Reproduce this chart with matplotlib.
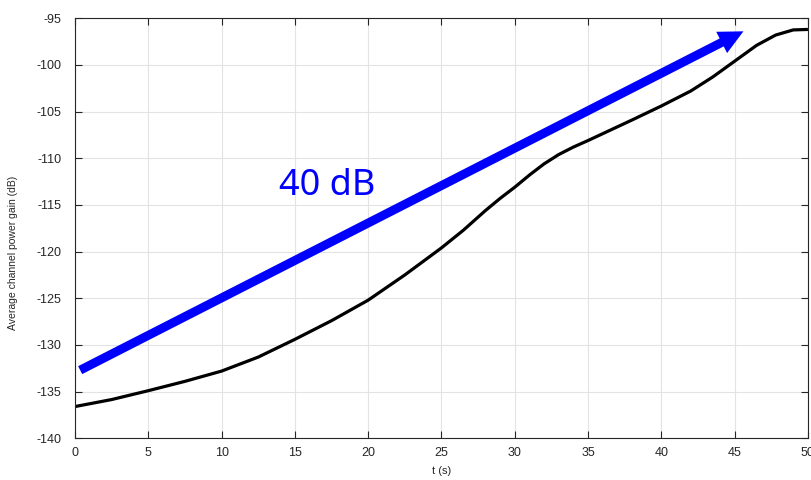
import numpy as np
import matplotlib
matplotlib.use('Agg')
import matplotlib.pyplot as plt
from matplotlib.patches import FancyArrowPatch

# curve
t = [0, 2.5, 5, 7.5, 10, 12.5, 15, 17.5, 20, 22.5, 25, 26.5, 28, 29, 30, 31, 32,
     33, 34, 35, 36.5, 38, 40, 42, 43.5, 45, 46.5, 47.8, 49, 50]
gain = [-136.6, -135.85, -134.9, -133.9, -132.8, -131.3, -129.4, -127.4, -125.2,
        -122.5, -119.6, -117.7, -115.6, -114.3, -113.1, -111.8, -110.6, -109.6,
        -108.8, -108.1, -107.0, -105.9, -104.4, -102.8, -101.3, -99.6, -97.9,
        -96.8, -96.25, -96.2]

arrow_start = (0.35, -132.7)
arrow_end = (45.6, -96.4)
label = '40 dB'
label_pos = (17.2, -113.0)

xticks = np.arange(0, 51, 5)
yticks = np.arange(-140, -94, 5)

plt.rcParams['font.family'] = ['Liberation Sans', 'DejaVu Sans']
plt.rcParams['axes.unicode_minus'] = False

fig = plt.figure(figsize=(8.12, 4.8), dpi=100)
ax = fig.add_axes([0.0924, 0.0869, 0.9026, 0.8751])

ax.plot(t, gain, color='black', lw=2.3, solid_joinstyle='round', solid_capstyle='butt')

arrow = FancyArrowPatch(arrow_start, arrow_end,
                        arrowstyle='simple,head_length=0.88,head_width=0.86,tail_width=0.32',
                        mutation_scale=20, color='#0000ff', lw=0, shrinkA=0, shrinkB=0)
ax.add_patch(arrow)

ax.text(label_pos[0], label_pos[1], label, color='#0000ff', fontsize=26,
        family=['Noto Sans', 'DejaVu Sans'], ha='center', va='center')

ax.set_xlim(0, 50)
ax.set_ylim(-140, -95)
ax.set_xticks(xticks)
ax.set_yticks(yticks)
ax.grid(True, color='#e3e3e3', lw=0.8)
ax.set_axisbelow(True)
ax.tick_params(direction='in', top=True, right=True, length=5, width=0.8,
               labelsize=9, colors='#262626')
ax.tick_params(axis='x', pad=6)
ax.tick_params(axis='y', pad=10)
for s in ax.spines.values():
    s.set_color('#262626')
    s.set_linewidth(0.8)

ax.set_xlabel('t (s)', fontsize=8, color='#262626', labelpad=5)
ax.set_ylabel('Average channel power gain (dB)', fontsize=7.5, color='#262626')
ax.yaxis.set_label_coords(-0.078, 0.442)

fig.savefig('out.png', dpi=100)
